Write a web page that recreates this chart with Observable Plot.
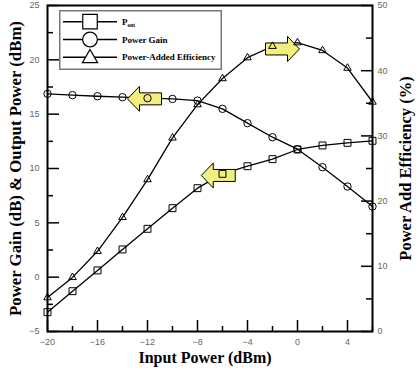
<!DOCTYPE html>
<html><head><meta charset="utf-8">
<script src="https://cdn.jsdelivr.net/npm/d3@7"></script>
<script src="https://cdn.jsdelivr.net/npm/@observablehq/plot@0.6"></script>
<style>
html,body{margin:0;padding:0;background:#fff;overflow:hidden;}
#wrap{position:relative;width:418px;height:380px;overflow:hidden;}
#wrap svg{display:block;}
#legend{position:absolute;left:59px;top:10px;}
</style></head><body><div id="wrap"></div>
<script>
// ---- data ----
const inputPower = [-20,-18,-16,-14,-12,-10,-8,-6,-4,-2,0,2,4,6];
const pout  = [-3.22,-1.29,0.62,2.55,4.45,6.35,8.19,9.51,10.21,10.86,11.75,12.12,12.36,12.55];
const gain  = [16.87,16.75,16.65,16.56,16.47,16.4,16.25,15.49,14.17,12.88,11.78,10.12,8.34,6.5];
const pae   = [5.2,8.3,12.3,17.5,23.3,29.7,34.8,38.8,42.0,43.75,44.3,43.1,40.4,35.2];
const xTicks = [-20,-16,-12,-8,-4,0,4];
const xMinor = [-18,-14,-10,-6,-2,2,6];
const leftTicks = [-5,0,5,10,15,20,25];
const leftMinor = [-2.5,2.5,7.5,12.5,17.5,22.5];
const rightTicks = [0,10,20,30,40,50];
const rightMinor = [5,15,25,35,45];
const seriesNames = ["out","Power Gain","Power-Added Efficiency"];
const seriesSymbols = ["square","circle","triangle"];
const arrowX = [-12.24,-6.34,-1.2];
const arrowY = [16.41,9.36,21.0];
const arrowRotate = [180,180,0];
const titleLeft = "Power Gain (dB) & Output Power (dBm)";
const titleRight = "Power Add Efficiency (%)";
const titleBottom = "Input Power (dBm)";

// ---- helpers ----
const toLeft = p => p*0.6 - 5;
const fromLeft = v => Math.round((v+5)/0.6);
const rows = inputPower.map((x,i)=>({x, pout:pout[i], gain:gain[i], pae:toLeft(pae[i])}));
const arrowRows = arrowX.map((x,i)=>({x, y:arrowY[i], rotate:arrowRotate[i]}));
const sans = '"Liberation Sans", Arial, sans-serif';
const serif = '"Liberation Serif", "Times New Roman", serif';
const arrowSymbol = {draw(ctx){
  const L=17, hb=6, hh=12.5, hx=5;
  ctx.moveTo(-L,-hb); ctx.lineTo(hx,-hb); ctx.lineTo(hx,-hh); ctx.lineTo(L,0);
  ctx.lineTo(hx,hh); ctx.lineTo(hx,hb); ctx.lineTo(-L,hb); ctx.closePath();
}};
const W=418,H=380,mL=47,mR=46,mT=5,mB=49;
const iw=W-mL-mR, ih=H-mT-mB;

const plot = Plot.plot({
  width:W, height:H, marginLeft:mL, marginRight:mR, marginTop:mT, marginBottom:mB,
  x:{domain:[-20,6]}, y:{domain:[-5,25]},
  style:{background:"#fff", overflow:"visible"},
  marks:[
    Plot.lineY(rows,{x:"x",y:"gain",stroke:"#000",strokeWidth:1.3}),
    Plot.lineY(rows,{x:"x",y:"pout",stroke:"#000",strokeWidth:1.3}),
    Plot.lineY(rows,{x:"x",y:"pae",stroke:"#000",strokeWidth:1.3}),
    Plot.dot(arrowRows,{x:"x",y:"y",symbol:arrowSymbol,rotate:"rotate",r:5,fill:"#f2ef7c",stroke:"#000",strokeWidth:1}),
    Plot.dot(rows,{x:"x",y:"gain",symbol:"circle",r:3.7,stroke:"#000",fill:"none",strokeWidth:1}),
    Plot.dot(rows,{x:"x",y:"pout",symbol:"square",r:3.9,stroke:"#000",fill:"none",strokeWidth:1}),
    Plot.dot(rows,{x:"x",y:"pae",symbol:"triangle",r:2.8,stroke:"#000",fill:"none",strokeWidth:1}),
    // inward ticks
    Plot.tickY(leftTicks,{y:d=>d,insetRight:iw-12,stroke:"#000",strokeWidth:1.5}),
    Plot.tickY(leftMinor,{y:d=>d,insetRight:iw-6,stroke:"#000",strokeWidth:1.5}),
    Plot.tickY(rightTicks.map(toLeft),{y:d=>d,insetLeft:iw-11,stroke:"#000",strokeWidth:1.5}),
    Plot.tickY(rightMinor.map(toLeft),{y:d=>d,insetLeft:iw-6,stroke:"#000",strokeWidth:1.5}),
    Plot.tickX(xTicks,{x:d=>d,insetTop:ih-11,stroke:"#000",strokeWidth:1.5}),
    Plot.tickX(xMinor,{x:d=>d,insetTop:ih-5,stroke:"#000",strokeWidth:1.5}),
    // tick labels
    Plot.axisY(leftTicks,{anchor:"left",tickSize:0,tickPadding:8,label:null,color:"#666",fontSize:9,fontFamily:sans}),
    Plot.axisY(rightTicks.map(toLeft),{anchor:"right",tickSize:0,tickPadding:5,label:null,tickFormat:fromLeft,color:"#666",fontSize:9,fontFamily:sans}),
    Plot.axisX(xTicks,{anchor:"bottom",tickSize:0,tickPadding:7,label:null,color:"#666",fontSize:9,fontFamily:sans}),
    Plot.frame({stroke:"#000",strokeWidth:2}),
    // titles
    Plot.text([titleLeft],{text:d=>d,frameAnchor:"left",textAnchor:"middle",dx:-32,rotate:-90,fontFamily:serif,fontWeight:"bold",fontSize:16.8,fill:"#000"}),
    Plot.text([titleRight],{text:d=>d,frameAnchor:"right",textAnchor:"middle",dx:33.5,rotate:-90,fontFamily:serif,fontWeight:"bold",fontSize:16.5,fill:"#000"}),
    Plot.text([titleBottom],{text:d=>d,frameAnchor:"bottom",textAnchor:"middle",lineAnchor:"bottom",dy:31,dx:-5,fontFamily:serif,fontWeight:"bold",fontSize:16,fill:"#000"})
  ]
});
const wrap = document.getElementById("wrap");
wrap.appendChild(plot);

// ---- legend ----
const lg = d3.select(wrap).append("svg").attr("id","legend").attr("width",164).attr("height",61);
lg.append("rect").attr("x",0.75).attr("y",0.75).attr("width",161.5).attr("height",58.5)
  .attr("fill","#fff").attr("stroke","#777").attr("stroke-width",1.5);
seriesNames.forEach((name,i)=>{
  const y = 11.7 + i*17.8;
  const g = lg.append("g");
  g.append("line").attr("x1",4).attr("x2",58).attr("y1",y).attr("y2",y).attr("stroke","#000").attr("stroke-width",1.5);
  const sym = d3.symbol().type(seriesSymbols[i]==="square"?d3.symbolSquare:seriesSymbols[i]==="circle"?d3.symbolCircle:d3.symbolTriangle)
    .size(seriesSymbols[i]==="square"?210:seriesSymbols[i]==="circle"?170:100);
  g.append("path").attr("d",sym()).attr("transform",`translate(31,${y+(seriesSymbols[i]==="triangle"?1:0)})`)
    .attr("fill","#fff").attr("stroke","#000").attr("stroke-width",1.2);
  const t = g.append("text").attr("x",63).attr("y",y+3).attr("font-family",serif).attr("font-weight","bold").attr("font-size",9).attr("fill","#000");
  if(i===0){ t.append("tspan").text("P"); t.append("tspan").attr("font-size",5.5).attr("dy",2).text(name); }
  else t.text(name);
});
</script>
</body></html>
